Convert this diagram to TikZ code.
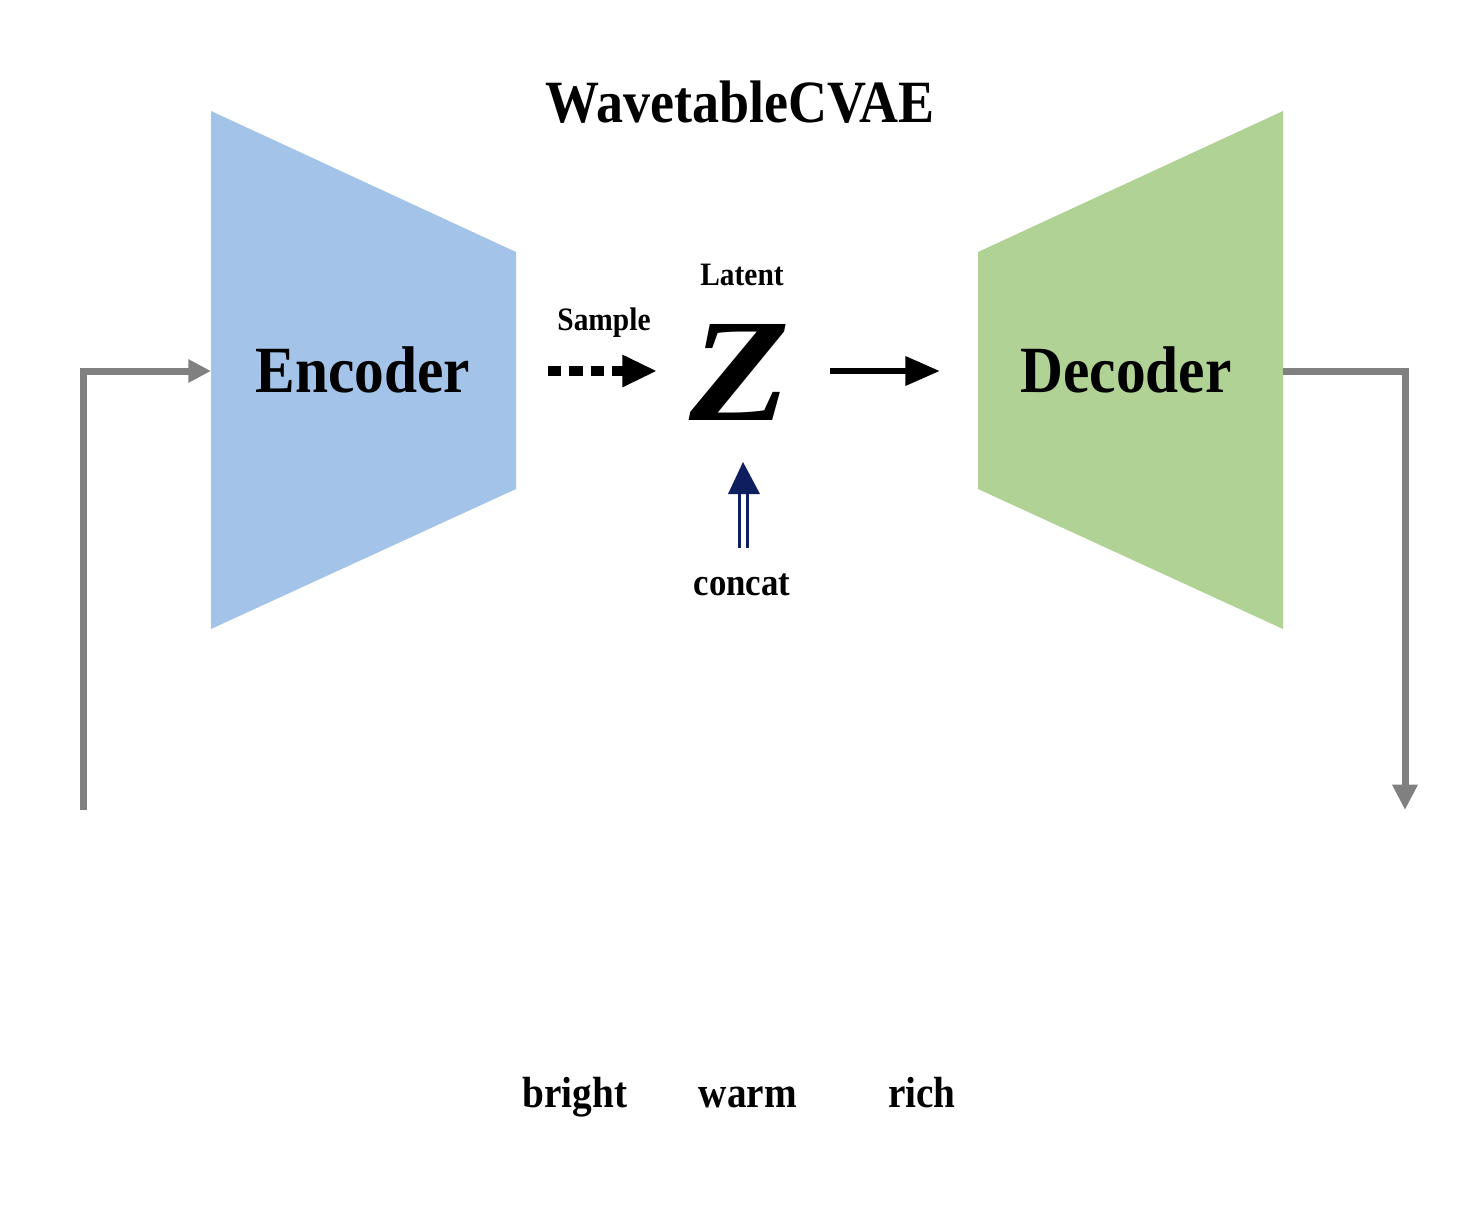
\documentclass[tikz,border=0pt]{standalone}
\usepackage{fontspec}
\setmainfont{Liberation Serif}[FakeStretch=0.9]
\usetikzlibrary{arrows.meta}
\definecolor{encblue}{RGB}{163,196,232}
\definecolor{decgreen}{RGB}{176,210,148}
\definecolor{wire}{RGB}{128,128,128}
\definecolor{navy}{RGB}{15,30,95}
\tikzset{
  lbl/.style={inner sep=0pt, anchor=base, font=\bfseries},
  wirepath/.style={draw=wire, line width=5.25pt, line join=miter},
}
\newcommand{\fs}[1]{\fontsize{#1}{#1}\selectfont}
\begin{document}
\begin{tikzpicture}[x=0.75pt, y=-0.75pt]
\useasboundingbox (0,0) rectangle (1484,1220);

% encoder and decoder blocks
\fill[encblue] (211,111) -- (516,252) -- (516,489) -- (211,629) -- cycle;
\fill[decgreen] (978,252) -- (1283,111) -- (1283,629) -- (978,489) -- cycle;

% labels
\node[lbl] (title) at (740,123) {\fs{45}WavetableCVAE};
\node[lbl] (enc) at (363,392) {\fs{49.5}Encoder};
\node[lbl] (dec) at (1126,392) {\fs{49.5}Decoder};
\node[lbl] (sample) at (604,330) {\fs{24.5}Sample};
\node[lbl] (latent) at (742,285) {\fs{24.5}Latent};
\node[inner sep=0pt, anchor=base, xscale=1.25] (z) at (740,420) {\fs{110}\bfseries\itshape Z};
\node[lbl] (concat) at (742,595) {\fs{29}concat};
\node[lbl] (bright) at (575,1107) {\fs{32.7}bright};
\node[lbl] (warm) at (748,1107) {\fs{32.7}warm};
\node[lbl] (rich) at (922,1107) {\fs{32.7}rich};

% connector end points
\coordinate (inlow) at (83,810);
\coordinate (incorner) at (83,371);
\coordinate (encin) at (211,371);
\coordinate (decout) at (1283,371);
\coordinate (outcorner) at (1405,371);
\coordinate (outlow) at (1405,810);
\coordinate (smp0) at (548,371);
\coordinate (smp1) at (657,371);
\coordinate (dz0) at (830,371);
\coordinate (dz1) at (940,371);
\coordinate (cc0) at (743,548);
\coordinate (cc1) at (743,494);
\coordinate (cc2) at (743,462);

% input and output wires
\draw[wirepath, -{Triangle[length=17pt, width=16.5pt]}] (inlow) -- (incorner) -- (encin);
\draw[wirepath, -{Triangle[length=19pt, width=18pt]}] (decout) -- (outcorner) -- (outlow);

% sampling arrow
\draw[line width=8pt, dash pattern=on 10pt off 6pt, -{Triangle[length=26pt, width=22.5pt]}] (smp0) -- (smp1);

% latent to decoder
\draw[line width=5pt, -{Triangle[length=26pt, width=21pt]}] (dz0) -- (dz1);

% condition arrow
\draw[navy, line width=2.25pt, double=white, double distance=3.75pt] (cc0) -- (cc1);
\fill[navy] (728,494) -- (cc2) -- (760,494) -- cycle;
\end{tikzpicture}
\end{document}
